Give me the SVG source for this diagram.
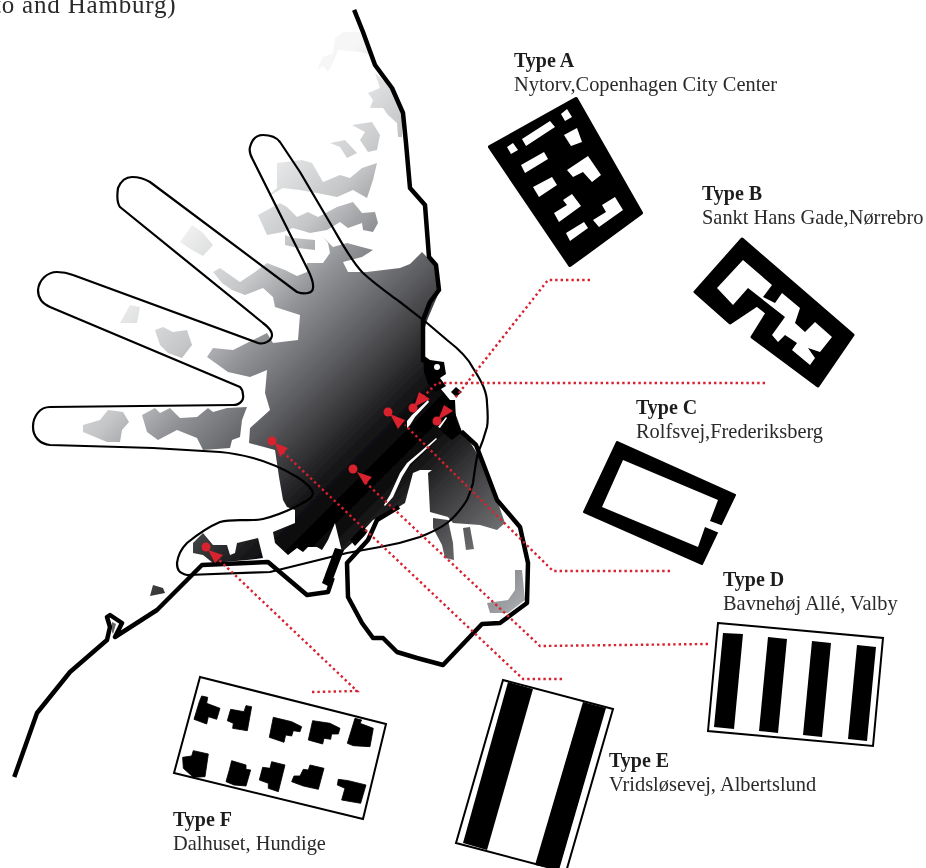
<svg xmlns="http://www.w3.org/2000/svg" width="926" height="868" viewBox="0 0 926 868">
<style>
.l{font-family:"Liberation Serif","Times New Roman",serif;font-size:20.4px;fill:#2a2a2a}
.b{font-weight:bold;font-size:20px;fill:#1e1e1e}
.k{fill:#000}
.w{fill:#fff}
.fr{fill:#fff;stroke:#000;stroke-width:2}
.coast{fill:none;stroke:#000;stroke-width:4.5;stroke-linejoin:round;stroke-linecap:square}
.hand{fill:none;stroke:#000;stroke-width:2.2;stroke-linejoin:round}
.dot{fill:none;stroke:#d8202f;stroke-width:2.4;stroke-dasharray:2.4 3}
.pin{fill:#d8202f}
</style>
<defs>
<linearGradient id="g" gradientUnits="userSpaceOnUse" x1="200" y1="200" x2="575" y2="575">
<stop offset="0" stop-color="#f6f6f6"/>
<stop offset="0.173" stop-color="#c4c6c8"/>
<stop offset="0.267" stop-color="#909295"/>
<stop offset="0.4" stop-color="#58595c"/>
<stop offset="0.533" stop-color="#18181a"/>
<stop offset="0.6" stop-color="#000"/>
<stop offset="0.733" stop-color="#404042"/>
<stop offset="1" stop-color="#b4b7ba"/>
</linearGradient>
<filter id="s" x="0" y="0" width="1" height="1"><feGaussianBlur stdDeviation="0.45"/></filter>
</defs>
<rect width="926" height="868" fill="#fff"/>
<g filter="url(#s)">
<g id="urban" fill="url(#g)">
<path d="M335 38 343 32 360 32 372 55 360 52 338 50 333 63 328 72 323 66 317 70 323 57 333 53Z"/>
<path d="M368 93 380 88 375 73 392 88 402 112 402 137 398 137 397 123 388 115 383 108 370 108 373 100Z"/>
<path d="M352 125 372 122 380 135 377 150 368 152 360 140 365 132Z"/>
<path d="M330 143 345 140 357 153 347 158 340 147Z"/>
<path d="M277 163 302 160 312 163 323 182 340 175 350 178 362 168 377 163 373 180 367 198 353 190 337 197 317 193 300 190 283 188 267 197 277 188 277 172Z"/>
<path d="M258 215 280 203 287 207 297 217 308 212 318 217 337 207 353 202 362 213 375 212 378 223 373 232 363 230 362 223 348 228 340 222 327 230 310 233 293 228 283 232 267 235Z"/>
<path d="M285 235 293 238 315 240 315 250 298 248 285 245Z"/>
<path d="M192 225 202 232 213 245 203 256 192 250 180 242Z"/>
<path d="M130 305 140 307 137 323 120 323Z"/>
<path d="M155 330 163 327 173 332 187 330 192 345 182 358 168 353 160 345Z"/>
<path d="M83 425 100 420 108 410 123 412 129 422 122 430 120 442 107 442 83 432Z"/>
<path d="M142 415 155 408 160 413 170 408 180 418 197 417 208 408 213 412 227 408 247 407 242 420 240 437 232 440 230 448 203 450 197 438 177 430 158 440 147 432Z"/>
<path d="M193 543 203 533 213 545 227 545 230 555 235 553 237 543 258 538 263 558 247 560 213 563 203 555 193 553Z"/>
<path d="M153 585 163 588 165 593 150 596Z"/>
<path d="M433 518 448 520 453 543 454 560 445 558 442 545 433 528Z"/>
<path d="M463 528 470 527 474 549 466 550Z"/>
<path d="M515 570 522 570 525 600 508 613 490 613 487 603 508 600 515 590Z"/>
<path d="M422 252 432 262 437 270 440 290 428 318 424 330 424 362 430 370 436 383 450 400 457 418 462 432 470 442 483 463 497 500 505 523 497 530 480 525 453 523 448 517 430 512 428 473 432 470 420 470 413 473 405 503 397 508 373 520 352 543 342 552 335 523 328 540 322 550 317 547 308 547 303 552 297 548 288 555 275 543 273 532 295 523 295 510 287 507 283 500 279 477 275 450 249 443 250 428 270 410 265 393 267 370 250 377 228 372 207 357 213 348 233 350 247 343 267 333 273 343 298 340 300 315 275 307 273 297 263 288 245 295 232 290 222 283 213 272 220 268 240 282 255 272 267 263 285 270 297 276 307 272 307 263 323 263 330 253 328 243 323 237 333 247 347 243 373 250 362 257 343 262 348 272 367 272 400 268 410 264Z"/>
</g>
<g id="harbour">
<path class="k" d="M423 355 430 360 444 362 446 374 440 378 446 386 436 392 428 384 424 372Z"/>
<circle class="w" cx="437" cy="367" r="3"/>
<path class="k" d="M456 387 462 392 456 397 451 392Z"/>
<path class="k" d="M448 400 455 400 456 420 462 432 452 440 440 430 444 412Z"/>
<path class="k" d="M322 583 335 548 344 550 330 587Z"/>
<path class="k" d="M350 540 363 526 368 532 355 546Z"/>
<path class="w" d="M407 428 407 421 412 415 428 400 429 402 415 417 410 425Z"/>
<path class="w" d="M384 505 390 495 400 473 407 463 420 452 436 438 437 439 422 453 410 464 402 477 393 497 385 506Z"/>
<path class="w" d="M438 427 446 417 447 418 440 428Z"/>
<path class="w" d="M360 544 372 524 385 515 386 516 374 526 362 545Z"/>
</g>
<g id="coastline">
<path class="coast" d="M355 12 363 32 375 65 392 88 403 113 406 143 410 188 425 205 429 257 436 265 439 290 430 302 423 320 423 360"/>
<path class="coast" d="M463 433 476 445 483 463 497 500 520 527 528 563 527 603 500 623 482 624 443 665 417 658 397 652 383 638 373 638 362 623 348 597 347 563 368 540 377 520 397 508"/>
<path class="coast" d="M15 775 37 713 70 672 107 640 110 627 107 617 110 615 122 623 115 637 157 610 202 565 268 562 307 595 328 592 332 580"/>
<path d="M112 622 116 624 113 634 112 632Z" fill="#666"/>
</g>
<g id="hand">
<path class="hand" d="M263 135C272 135 277 138 280 142L300 172 333 228C343 245 352 262 363 273 376 285 388 293 400 302L427 323 447 340C460 350 468 358 473 368 482 382 487 392 487 403 488 415 488 422 487 427 484 438 481 446 478 453 476 460 475 468 473 483 471 490 469 495 467 500 462 508 456 516 447 523 438 530 429 533 420 537 405 542 392 545 380 547L347 553 270 572 187 575C179 573 177 570 177 563 178 555 182 548 187 543 198 534 208 527 220 522 235 518 250 522 263 519 275 516 285 512 295 507 305 502 313 498 313 493 312 488 305 482 297 477 282 468 268 462 253 458 242 455 232 453 220 452L153 448 120 447 50 445C40 444 33 437 33 427 33 416 40 407 50 407L233 405C241 405 244 399 243 395 243 391 241 388 240 387L50 307C43 304 38 298 38 290 39 280 47 272 57 272 63 272 68 273 73 275L258 343C265 345 272 340 272 335 272 331 267 326 263 323L120 207C117 203 117 195 118 188 121 181 126 177 132 177 139 177 145 179 150 182L297 292C305 295 313 293 313 288 314 282 311 276 308 270L253 160C250 155 249 151 250 147 252 139 257 135 263 135Z"/>
</g>
<g id="connectors">
<path class="dot" d="M590 280H548L455 398"/>
<path class="dot" d="M765 383H437L422 398"/>
<path class="dot" d="M670 571H553L405 425"/>
<path class="dot" d="M708 644 540 646 365 482"/>
<path class="dot" d="M562 679H523L283 452"/>
<path class="dot" d="M312 692 357 691 217 558"/>
</g>
<g id="pins">
<g class="pin"><circle cx="413" cy="408" r="4.5"/><path d="M414 407 419 392 430 399Z"/></g>
<g class="pin"><circle cx="437" cy="421" r="4.5"/><path d="M438 420 444 405 453 411Z"/></g>
<g class="pin"><circle cx="388" cy="412" r="4.5"/><path d="M390 414 405 420 398 429Z"/></g>
<g class="pin"><circle cx="353" cy="469" r="4.5"/><path d="M357 472 372 477 365 485Z"/></g>
<g class="pin"><circle cx="272" cy="441" r="4.5"/><path d="M275 443 288 448 280 457Z"/></g>
<g class="pin"><circle cx="206" cy="547" r="4.5"/><path d="M208 550 223 555 215 563Z"/></g>
</g>
<g id="type-a">
<path class="k" stroke="#000" stroke-width="4" stroke-linejoin="round" d="M490 147 576 99 641 213 570 265Z"/>
<path class="w" d="M507 147 513 143 518 150 511 154Z"/>
<path class="w" d="M522 139 550 121 555 127 526 146Z"/>
<path class="w" d="M561 114 567 109 572 117 565 121Z"/>
<path class="w" d="M564 135 577 128 582 142 571 146Z"/>
<path class="w" d="M521 165 544 152 548 159 525 173Z"/>
<path class="w" d="M567 170 588 156 601 175 592 182 583 172 573 177Z"/>
<path class="w" d="M533 187 552 177 557 185 539 197Z"/>
<path class="w" d="M554 213 567 205 563 200 572 194 581 206 559 222Z"/>
<path class="w" d="M593 220 606 212 602 205 615 197 623 210 599 227Z"/>
<path class="w" d="M566 233 584 222 588 228 570 241Z"/>
<text class="l b" x="514" y="67">Type A</text>
<text class="l" x="514" y="91">Nytorv,Copenhagen City Center</text>
</g>
<g id="type-b">
<path class="k" stroke="#000" stroke-width="3" stroke-linejoin="round" d="M695 292 742 239 853 335 818 386 752 337 767 313 757 305 730 323Z"/>
<path class="w" d="M717 288 743 260 772 285 763 297 775 303 782 293 800 308 795 323 805 332 815 322 832 337 820 352 808 348 815 358 810 365 792 350 797 343 785 335 778 342 772 335 785 317 748 288 733 305Z"/>
<text class="l b" x="702" y="200">Type B</text>
<text class="l" x="702" y="224">Sankt Hans Gade,Nørrebro</text>
</g>
<g id="type-c">
<path class="k" stroke="#000" stroke-width="2" stroke-linejoin="round" d="M617 442 735 495 702 564 584 512Z"/>
<path class="w" d="M623 460 718 500 710 521 740 532 736 540 705 527 698 547 602 507Z"/>
<text class="l b" x="636" y="414">Type C</text>
<text class="l" x="636" y="438">Rolfsvej,Frederiksberg</text>
</g>
<g id="type-d">
<path class="fr" d="M718 623 883 638 873 746 708 731Z"/>
<path class="k" d="M723 633 743 634 734 729 714 727Z"/>
<path class="k" d="M768 637 787 639 778 733 759 731Z"/>
<path class="k" d="M812 641 831 643 822 737 803 735Z"/>
<path class="k" d="M857 645 876 647 867 741 848 739Z"/>
<text class="l b" x="723" y="586">Type D</text>
<text class="l" x="723" y="610">Bavnehøj Allé, Valby</text>
</g>
<g id="type-e">
<path class="fr" d="M503 680 613 709 566 872 456 843Z"/>
<path class="k" d="M508 682 533 689 487 850 463 843Z"/>
<path class="k" d="M583 702 606 708 559 870 535 865Z"/>
<text class="l b" x="609" y="767">Type E</text>
<text class="l" x="609" y="791">Vridsløsevej, Albertslund</text>
</g>
<g id="type-f">
<path class="fr" d="M200 677 386 724 363 819 174 773Z"/>
<g class="k" stroke="#000" stroke-width="2.5" transform="translate(140 660) scale(.3333)">
<path d="M185 108 203 112 200 130 240 145 230 178 205 170 200 192 162 178 178 125Z"/>
<path d="M262 182 272 148 312 155 318 137 335 140 322 212 278 205 280 190Z"/>
<path d="M400 172 455 185 485 200 480 215 460 212 455 228 437 225 432 247 388 232Z"/>
<path d="M518 182 570 190 600 205 595 222 575 222 572 238 552 235 548 252 505 240Z"/>
<path d="M645 175 665 180 660 190 700 205 690 260 640 257 622 250Z"/>
<path d="M160 272 205 282 195 350 160 352 130 325 128 292 155 288Z"/>
<path d="M275 302 318 315 318 328 332 330 318 378 282 375 258 365 268 330Z"/>
<path d="M395 305 435 315 415 395 385 385 385 370 358 360 368 322 390 325Z"/>
<path d="M510 315 552 325 535 388 490 378 455 365 462 348 480 348 490 328 505 330Z"/>
<path d="M595 358 625 362 678 375 662 430 605 420 615 385 592 375Z"/>
</g>
<text class="l b" x="173" y="826">Type F</text>
<text class="l" x="173" y="850">Dalhuset, Hundige</text>
</g>
<text class="l" x="-6" y="12.5" style="font-size:25px;letter-spacing:.8px">to and Hamburg)</text>
</g>
</svg>
